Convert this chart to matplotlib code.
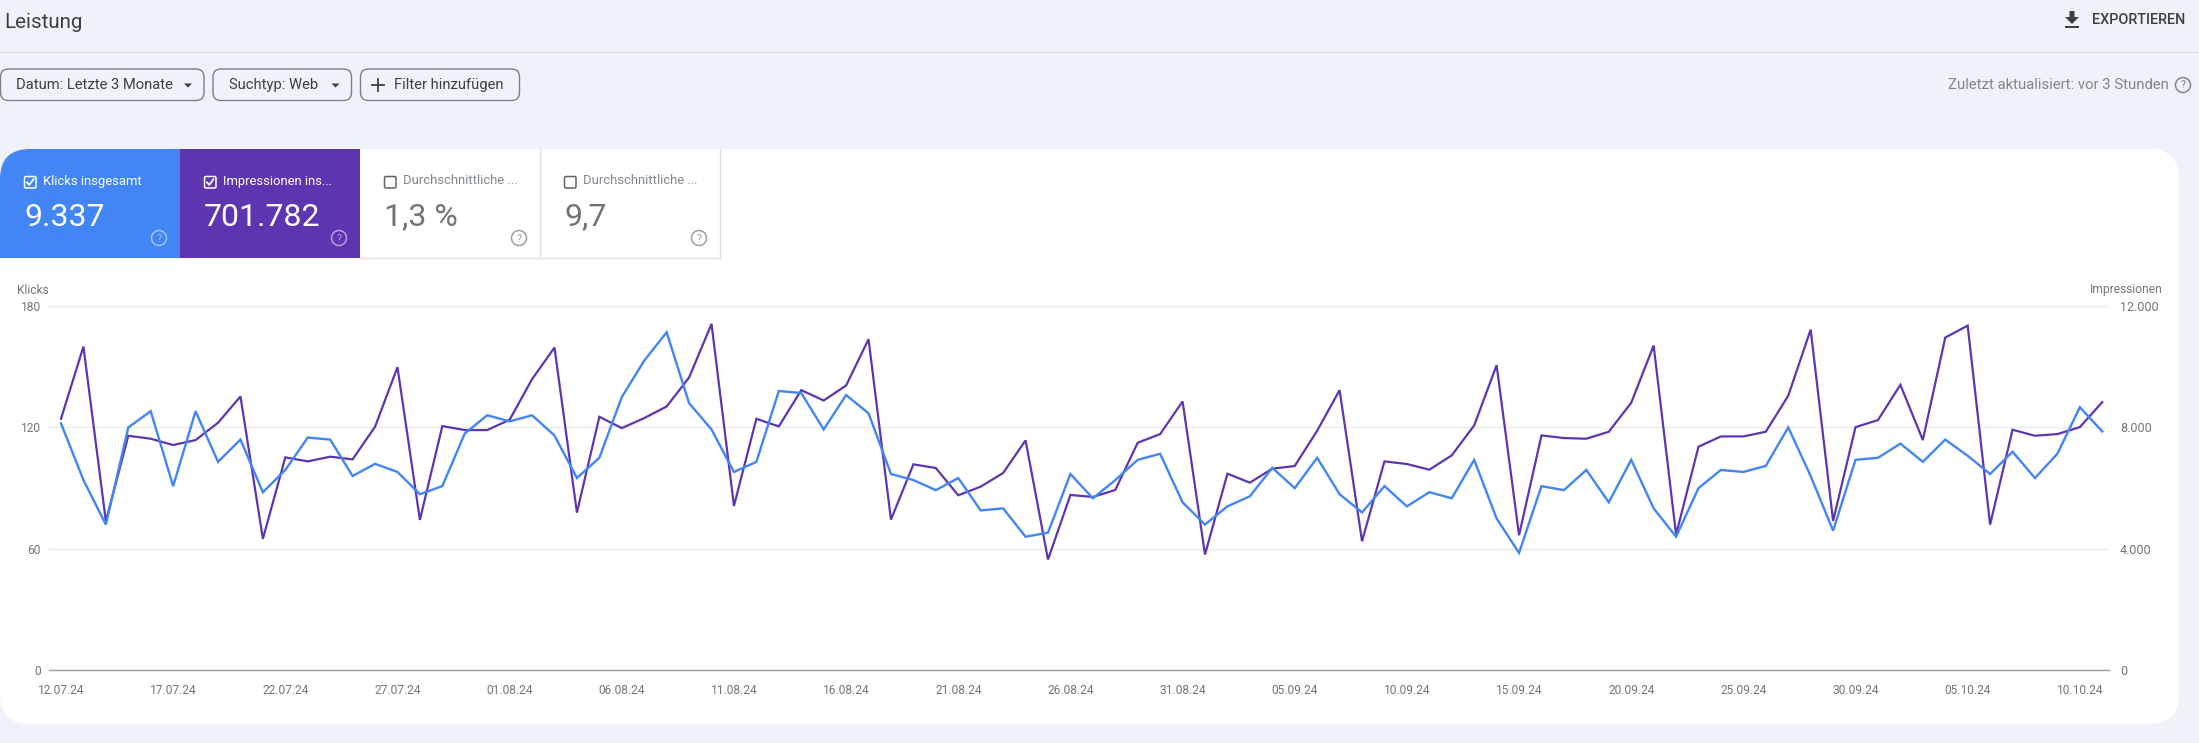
import matplotlib
matplotlib.use("Agg")
import matplotlib.pyplot as plt
from matplotlib.patches import Circle, FancyBboxPatch, Polygon, Rectangle

plt.rcParams['font.family'] = ['Roboto', 'DejaVu Sans']

# Values, one per day starting 12.07.24
klicks = [122, 94, 72, 120, 128, 91, 128, 103, 114, 88, 99, 115, 114, 96, 102, 98,
          87, 91, 117, 126, 123, 126, 116, 95, 105, 135, 153, 167, 132, 119, 98, 103,
          138, 137, 119, 136, 127, 97, 94, 89, 95, 79, 80, 66, 68, 97, 85, 94,
          104, 107, 83, 72, 81, 86, 100, 90, 105, 87, 78, 91, 81, 88, 85, 104,
          75, 58, 91, 89, 99, 83, 104, 80, 66, 90, 99, 98, 101, 120, 96, 69,
          104, 105, 112, 103, 114, 106, 97, 108, 95, 107, 130, 118]
impressionen = [8285, 10664, 4910, 7726, 7628, 7420, 7584, 8154, 9020, 4329, 7014, 6882,
                7036, 6948, 8022, 9984, 4954, 8044, 7913, 7913, 8252, 9590, 10631, 5195,
                8351, 7978, 8307, 8691, 9644, 11409, 5414, 8285, 8033, 9228, 8888, 9381,
                10905, 4964, 6784, 6663, 5765, 6050, 6499, 7573, 3649, 5776, 5710, 5940,
                7496, 7781, 8855, 3814, 6477, 6181, 6641, 6729, 7891, 9228, 4252, 6882,
                6795, 6608, 7080, 8066, 10050, 4449, 7737, 7650, 7628, 7858, 8811, 10697,
                4471, 7365, 7704, 7704, 7858, 9042, 11223, 4921, 8011, 8242, 9403, 7584,
                10960, 11354, 4800, 7924, 7726, 7781, 8011, 8833]
x_labels = ['12.07.24', '17.07.24', '22.07.24', '27.07.24', '01.08.24', '06.08.24', '11.08.24',
            '16.08.24', '21.08.24', '26.08.24', '31.08.24', '05.09.24', '10.09.24', '15.09.24',
            '20.09.24', '25.09.24', '30.09.24', '05.10.24', '10.10.24']
klicks_ticks = [0, 60, 120, 180]
klicks_tick_labels = ['0', '60', '120', '180']
impr_ticks = [0, 4000, 8000, 12000]
impr_tick_labels = ['0', '4.000', '8.000', '12.000']
tile_titles = ['Klicks insgesamt', 'Impressionen ins...', 'Durchschnittliche ...', 'Durchschnittliche ...']
tile_values = ['9.337', '701.782', '1,3 %', '9,7']

W, H = 2199, 743
BG = '#eff3f9'
BLUE = '#4285f4'
PURPLE = '#5e35b1'
GREY_TEXT = '#70757a'


def px(size):
    # font size given in image pixels
    return size * 72 / 100


fig = plt.figure(figsize=(W / 100, H / 100), dpi=100, facecolor=BG)

# ===== PAGE AROUND THE CHART, drawn in pixel coordinates =====
ui = fig.add_axes([0, 0, 1, 1])
ui.set_xlim(0, W)
ui.set_ylim(H, 0)
ui.axis('off')


def help_icon(x, y, color, r=7.5):
    ui.add_patch(Circle((x, y), r, fill=False, ec=color, lw=1.1, zorder=6))
    ui.text(x, y + 0.5, '?', color=color, fontsize=px(10.5), ha='center', va='center', zorder=6)


def checkbox(x, y, checked, color):
    ui.add_patch(FancyBboxPatch((x + 0.5, y + 0.5), 11.5, 11.5, boxstyle='round,pad=0,rounding_size=1.5',
                                fill=False, ec=color, lw=1.1, zorder=6))
    if checked:
        ui.plot([x + 3, x + 5.3, x + 9.5], [y + 6.4, y + 9, y + 3.2], color=color, lw=1.3, zorder=6)


def button(x0, x1, label, text_x):
    ui.add_patch(FancyBboxPatch((x0, 69), x1 - x0, 31.5, boxstyle='round,pad=0,rounding_size=8',
                                fc=BG, ec='#7b8085', lw=1.0))
    ui.text(text_x, 85, label, color='#3c4043', fontsize=px(14.8), va='center')


def arrow(x):
    ui.add_patch(Polygon([(x - 4, 83.5), (x + 4, 83.5), (x, 87.5)], color='#3c4043', lw=0))


# Header
ui.text(4, 22, 'Leistung', color='#3c4043', fontsize=px(20.5), va='center')
ui.plot([0, W], [52.3, 52.3], color='#dfe3e6', lw=1)
ui.add_patch(Polygon([(2069.5, 11), (2074.5, 11), (2074.5, 17), (2079, 17), (2072, 24), (2065, 17), (2069.5, 17)],
                     color='#3c4043', lw=0))
ui.add_patch(Rectangle((2065, 26), 14, 2, color='#3c4043', lw=0))
ui.text(2092, 20.5, 'EXPORTIEREN', color='#3c4043', fontsize=px(14.4), weight='medium', va='center')

# Filter row
button(0.5, 204, 'Datum: Letzte 3 Monate', 16.5)
arrow(188)
button(213, 351.5, 'Suchtyp: Web', 229)
arrow(335.5)
button(360.5, 519.5, 'Filter hinzufügen', 394.5)
ui.plot([371.5, 383.5], [85, 85], color='#3c4043', lw=1.3)
ui.plot([377.5, 377.5], [79, 91], color='#3c4043', lw=1.3)
ui.text(2169, 85, 'Zuletzt aktualisiert: vor 3 Stunden', color='#80868b', fontsize=px(14.9),
        ha='right', va='center')
help_icon(2183, 85, '#80868b')

# White card and the four metric tiles
card = FancyBboxPatch((0, 149), 2179, 575, boxstyle='round,pad=0,rounding_size=30', fc='white', ec='none')
ui.add_patch(card)
tile_x = [0, 180, 360, 540]
tile_fill = [BLUE, PURPLE, 'white', 'white']
tile_text = ['white', 'white', '#80868b', '#80868b']
tile_value_color = ['white', 'white', '#6f7478', '#6f7478']
tile_help = ['#a3c2f9', '#b3a0dd', '#9aa0a6', '#9aa0a6']
for i in range(4):
    tile = Rectangle((tile_x[i], 149), 180, 109, fc=tile_fill[i], ec='none', zorder=3)
    ui.add_patch(tile)
    tile.set_clip_path(card)
    checkbox(tile_x[i] + 24, 176, i < 2, tile_text[i] if i < 2 else '#5f6368')
    ui.text(tile_x[i] + 43, 181, tile_titles[i], color=tile_text[i], fontsize=px(13), va='center', zorder=6)
    ui.text(tile_x[i] + 24, 217, tile_values[i], color=tile_value_color[i], fontsize=px(32),
            va='center', zorder=6)
    help_icon(tile_x[i] + 159, 238, tile_help[i])
for x_edge in [539.5, 719.5]:
    ui.plot([x_edge, x_edge], [149, 258], color='#e0e0e0', lw=1, zorder=4)
ui.plot([360, 720], [258, 258], color='#e0e0e0', lw=1, zorder=4)

ui.text(16.5, 290, 'Klicks', color=GREY_TEXT, fontsize=px(12), va='center')
ui.text(2162.5, 290, 'Impressionen', color=GREY_TEXT, fontsize=px(12), ha='right', va='center')

# ===== CHART =====
plot_left, plot_right = 49, 2109
plot_top, plot_bottom = 306, 670.3
ax = fig.add_axes([plot_left / W, 1 - plot_bottom / H, (plot_right - plot_left) / W, (plot_bottom - plot_top) / H])
ax2 = ax.twinx()

days = list(range(len(klicks)))
ax.plot(days, klicks, color=BLUE, lw=1.7, solid_joinstyle='miter', clip_on=False)
ax2.plot(days, impressionen, color=PURPLE, lw=1.6, solid_joinstyle='miter', clip_on=False)

# Blue line sits on top of the purple one
ax.set_zorder(ax2.get_zorder() + 1)
ax.patch.set_visible(False)
ax2.patch.set_visible(False)

ax.set_xlim(-0.535, 91.3)
ax.set_ylim(0, 180)
ax2.set_ylim(0, 12000)
ax.set_xticks(range(0, 5 * len(x_labels), 5))
ax.set_xticklabels(x_labels)
ax.set_yticks(klicks_ticks)
ax.set_yticklabels(klicks_tick_labels)
ax2.set_yticks(impr_ticks)
ax2.set_yticklabels(impr_tick_labels)

ax.tick_params(axis='x', length=0, pad=10, labelsize=px(12), labelcolor=GREY_TEXT)
ax.tick_params(axis='y', length=0, pad=6, labelsize=px(12), labelcolor=GREY_TEXT)
ax2.tick_params(axis='y', length=0, pad=8, labelsize=px(12.5), labelcolor=GREY_TEXT)

for a in (ax, ax2):
    for side in a.spines:
        a.spines[side].set_visible(False)
ax2.grid(axis='y', color='#ebebeb', lw=1)
ax2.set_axisbelow(True)
ax.spines['bottom'].set_visible(True)
ax.spines['bottom'].set_color('#9aa0a6')
ax.spines['bottom'].set_linewidth(1)

fig.savefig('out.png', dpi=100, facecolor=BG)
